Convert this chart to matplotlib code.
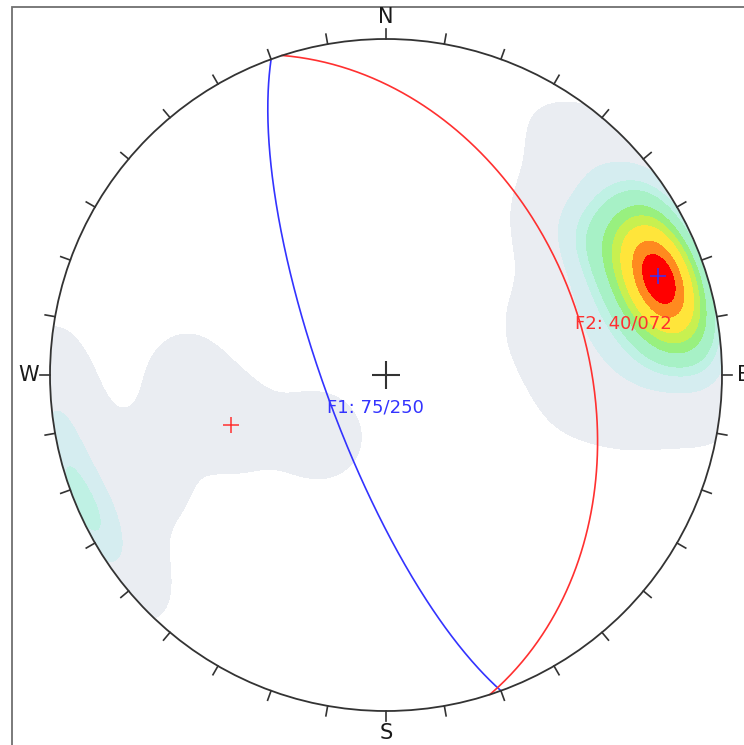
import matplotlib
matplotlib.use("Agg")
import matplotlib.pyplot as plt
import numpy as np
from matplotlib.patches import Circle, Rectangle

# pole data (trend, plunge) in degrees, lower hemisphere
main_trend = [70, 71.5, 68.5, 77, 75, 69, 64, 64, 69, 75, 82, 73, 62, 56, 61, 73, 82,
              90, 80, 62, 50, 54, 69, 85, 93, 72, 52, 56, 81, 88]
main_plunge = [15, 15.5, 14.5, 15, 17.5, 18.5, 16.5, 13.5, 11.5, 12.5, 19, 25, 23, 15, 7, 5, 11,
               18, 30, 31, 20, 5, 1, 4, 29, 35, 30, 1, 1, 5]
east_trend = [41, 54, 74, 92]
east_plunge = [12, 32, 48, 42]
west_trend = [268, 252, 228, 248, 244]
west_plunge = [40, 50, 68, 25, 6]
rim_trend = [266, 261, 256, 251, 246, 241, 236]
rim_plunge = [1, 2, 1, 2, 1, 2, 3]

plane_dip = [75, 40]
plane_dipdir = [250, 72]
plane_labels = ["F1: 75/250", "F2: 40/072"]
plane_colors = ["#3333ff", "#ff3030"]

levels = [0.45, 3.0, 4.34, 5.14, 6.51, 7.53, 8.55, 10.09, 11.2, 100]
level_colors = ["#eaedf2", "#d5edf0", "#bff1e4", "#a7f1c6", "#98f07f",
                "#c8f050", "#ffe53a", "#ff8a1f", "#ff0000"]
kappa = 50.0


def to_xyz(trend, plunge):
    t = np.radians(trend)
    p = np.radians(plunge)
    return np.stack([np.cos(p) * np.cos(t), np.cos(p) * np.sin(t), np.sin(p)], axis=-1)


def project(trend, plunge):
    r = np.sqrt(2) * np.sin(np.radians(90 - np.asarray(plunge)) / 2)
    t = np.radians(trend)
    return r * np.sin(t), r * np.cos(t)


def great_circle(dip, dipdir):
    a = np.linspace(0, np.pi, 300)
    s = np.radians(dipdir - 90)
    d = np.radians(dipdir)
    dr = np.radians(dip)
    n = np.cos(a) * np.cos(s) + np.sin(a) * np.cos(dr) * np.cos(d)
    e = np.cos(a) * np.sin(s) + np.sin(a) * np.cos(dr) * np.sin(d)
    down = np.sin(a) * np.sin(dr)
    plunge = np.degrees(np.arcsin(np.clip(down, -1, 1)))
    trend = np.degrees(np.arctan2(e, n))
    return project(trend, plunge)


trends = np.array(main_trend + east_trend + west_trend + rim_trend, dtype=float)
plunges = np.array(main_plunge + east_plunge + west_plunge + rim_plunge, dtype=float)
poles = to_xyz(trends, plunges)

# density grid (Fisher kernel)
g = np.linspace(-1.05, 1.05, 421)
gx, gy = np.meshgrid(g, g)
gr = np.clip(np.hypot(gx, gy), 0, 1.0)
gt = np.degrees(np.arctan2(gx, gy))
gp = 90 - 2 * np.degrees(np.arcsin(gr / np.sqrt(2)))
cells = to_xyz(gt, gp)
density = np.exp(kappa * (cells @ poles.T - 1)).sum(axis=-1)

fig = plt.figure(figsize=(7.44, 7.45), dpi=100)
ax = fig.add_axes([0, 0, 1, 1])
ax.set_xlim(-386 / 336, (744 - 386) / 336)
ax.set_ylim((375 - 745) / 336, 375 / 336)
ax.axis("off")

ax.add_patch(Rectangle((-374 / 336, -2), 4, 2 + 368 / 336, fill=False,
                       edgecolor="#707070", lw=1.3, zorder=1))

cf = ax.contourf(gx, gy, density, levels=levels, colors=level_colors, zorder=2)
cf.set_clip_path(Circle((0, 0), 1, transform=ax.transData))

for dip, dd, col in zip(plane_dip, plane_dipdir, plane_colors):
    x, y = great_circle(dip, dd)
    ax.plot(x, y, color=col, lw=1.2, zorder=4)
    px, py = project(dd + 180, 90 - dip)
    ax.plot(px, py, marker="+", ms=11, mew=1.1, color=col, zorder=5)

ax.add_patch(Circle((0, 0), 1, fill=False, edgecolor="#333333", lw=1.3, zorder=6))
for az in range(0, 360, 10):
    a = np.radians(az)
    ax.plot([np.sin(a), 1.03 * np.sin(a)], [np.cos(a), 1.03 * np.cos(a)],
            color="#333333", lw=1.2, zorder=6)

ax.plot(0, 0, marker="+", ms=20, mew=1.5, color="#333333", zorder=6)

for lab, az in zip(["N", "E", "S", "W"], [0, 90, 180, 270]):
    a = np.radians(az)
    ax.text(1.065 * np.sin(a), 1.065 * np.cos(a), lab, ha="center", va="center",
            fontsize=15, color="#1a1a1a", zorder=7)

ax.text(-59 / 336, -32 / 336, plane_labels[0], color=plane_colors[0], fontsize=13,
        ha="left", va="center", zorder=7)
ax.text(189 / 336, 52 / 336, plane_labels[1], color=plane_colors[1], fontsize=13,
        ha="left", va="center", zorder=7)

fig.savefig("out.png", dpi=100)
